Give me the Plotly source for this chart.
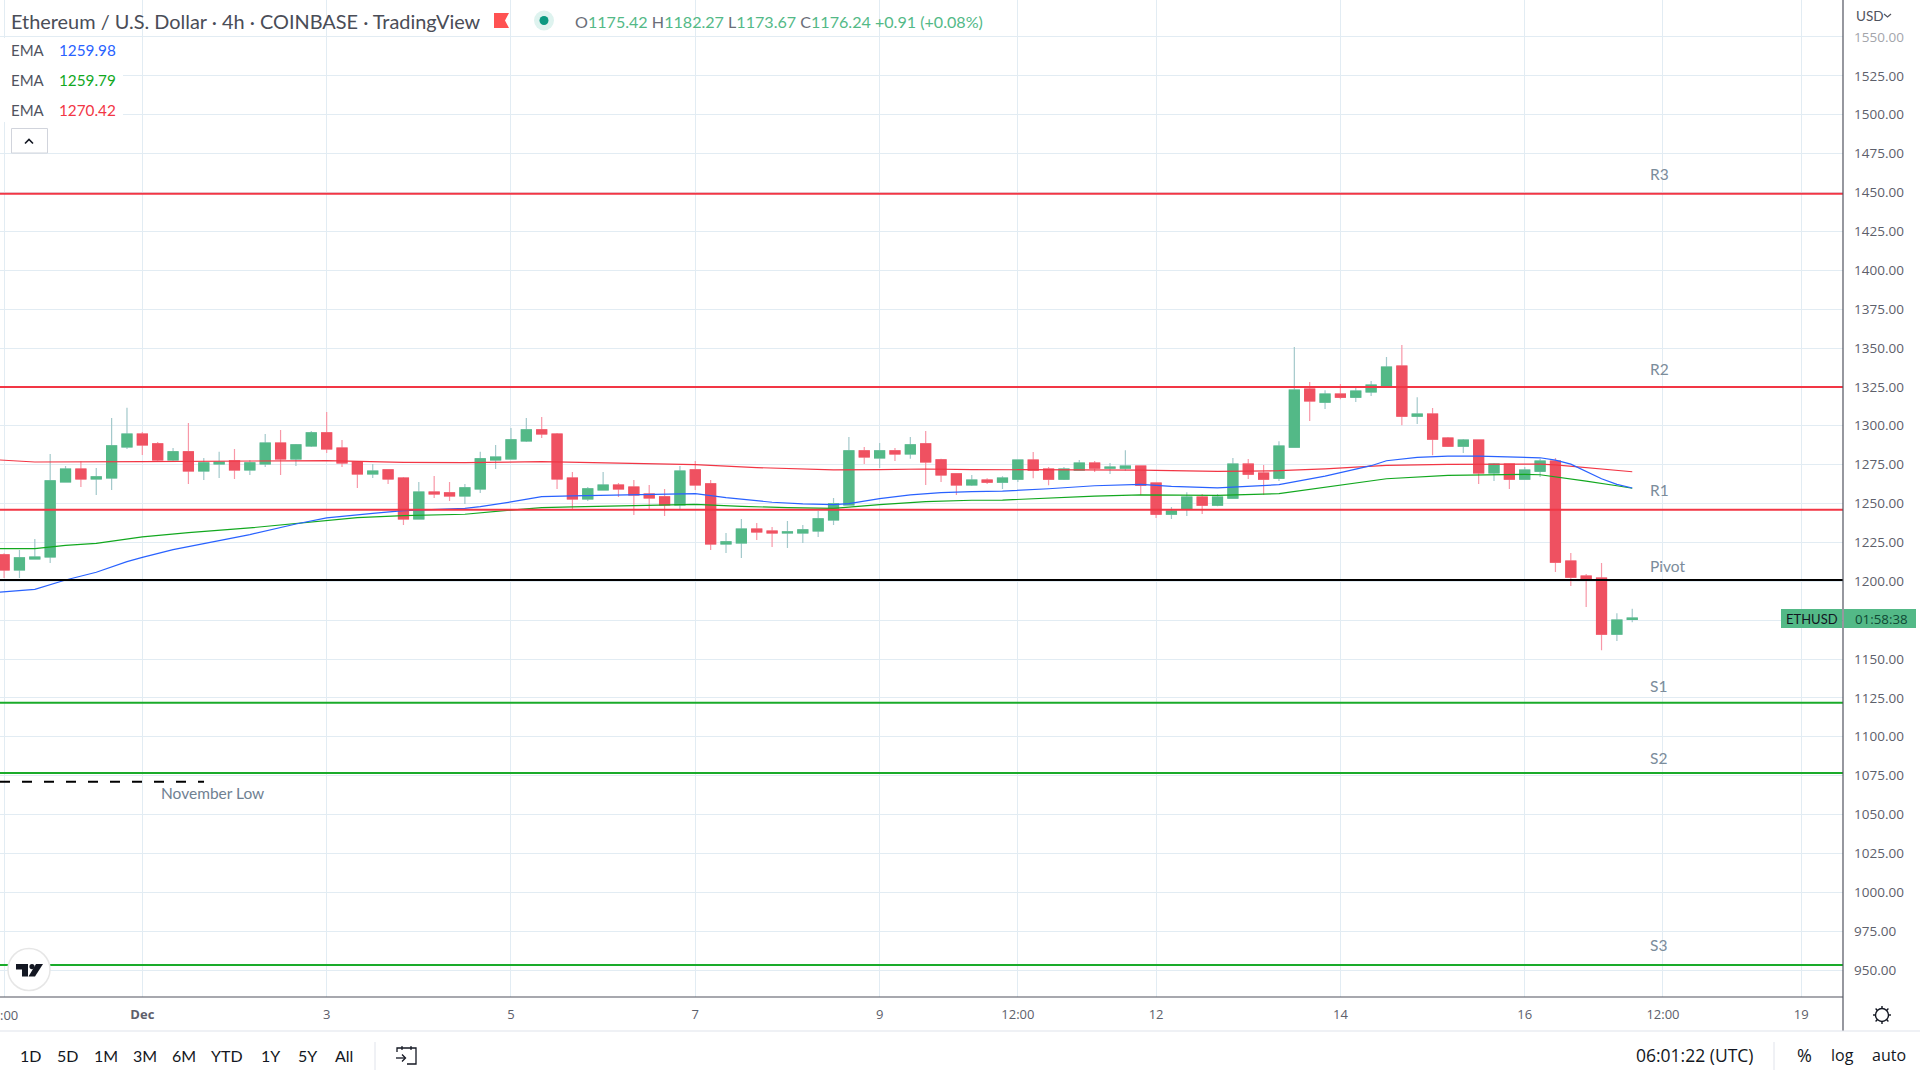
import pandas as pd
import plotly.graph_objects as go

W, H = 1920, 1080
PLOT_R, PLOT_B = 1843, 997

# ---------- data ----------
opens = [1216.9,1207.3,1214.3,1215.6,1263.9,1272.2,1265.8,1266.4,1286.4,1294.7,1288.3,1278.0,1283.2,1270.9,1275.4,1277.4,1271.6,1275.4,1288.9,1278.7,
         1287.0,1295.4,1285.7,1276.7,1269.0,1271.6,1266.4,1240.1,1257.4,1256.8,1254.9,1259.4,1278.0,1278.7,1290.2,1297.3,1294.7,1266.4,1252.9,1258.7,
         1261.9,1260.6,1256.1,1254.2,1249.1,1271.6,1262.6,1224.0,1224.6,1233.6,1232.3,1231.1,1231.1,1232.3,1239.4,1249.1,1283.8,1279.3,1283.8,1281.9,
         1288.3,1278.0,1269.0,1261.9,1265.1,1263.8,1265.7,1277.9,1272.1,1265.7,1271.5,1276.0,1272.8,1272.8,1274.1,1263.1,1243.2,1246.4,1254.1,1249.0,
         1253.5,1275.3,1269.6,1266.3,1286.3,1323.6,1315.2,1320.4,1318.4,1321.7,1325.5,1338.4,1306.2,1307.5,1292.1,1286.9,1290.8,1269.6,1275.3,1265.7,
         1270.8,1277.3,1213.0,1203.3,1202.0,1166.0,1175.42]
highs = [1218.0,1220.1,1227.2,1281.9,1274.1,1277.2,1272.9,1305.0,1311.5,1296.0,1289.6,1285.7,1301.8,1279.3,1283.2,1285.1,1278.0,1294.7,1297.3,1288.3,
         1296.7,1308.9,1290.9,1277.4,1275.4,1271.6,1267.1,1263.9,1267.7,1263.9,1262.6,1283.2,1287.7,1298.6,1305.0,1305.7,1295.4,1270.3,1260.6,1270.3,
         1263.2,1265.1,1261.9,1259.4,1274.1,1277.4,1265.1,1231.1,1240.1,1237.5,1234.9,1238.8,1236.2,1245.2,1253.6,1292.8,1286.4,1288.9,1285.7,1292.8,
         1296.7,1278.7,1269.0,1268.4,1266.3,1267.6,1277.9,1283.1,1273.4,1273.4,1277.9,1277.3,1276.0,1284.3,1274.1,1263.1,1247.7,1257.3,1256.1,1256.1,
         1279.2,1278.6,1274.7,1290.1,1350.6,1328.1,1322.9,1326.8,1324.2,1328.7,1344.2,1351.9,1318.4,1311.4,1292.7,1291.4,1290.8,1276.0,1275.3,1273.4,
         1278.6,1279.2,1218.1,1204.6,1211.7,1179.5,1182.27]
lows = [1202.1,1202.1,1214.0,1211.8,1263.9,1260.6,1255.5,1258.7,1285.1,1281.2,1276.7,1277.4,1262.6,1265.1,1266.4,1265.8,1268.4,1273.5,1268.4,1274.1,
        1286.4,1282.5,1273.5,1260.0,1266.4,1262.6,1236.2,1240.1,1253.6,1251.6,1249.7,1256.8,1272.2,1278.7,1289.6,1292.2,1259.4,1246.5,1251.6,1258.7,
        1254.2,1242.6,1245.8,1242.0,1246.5,1258.7,1220.1,1218.2,1215.0,1226.6,1222.0,1221.4,1224.6,1228.5,1236.2,1249.1,1275.4,1272.9,1277.4,1278.7,
        1261.9,1263.9,1255.5,1261.3,1262.5,1259.3,1263.8,1266.3,1261.8,1265.1,1271.5,1270.2,1268.9,1271.1,1255.4,1240.6,1240.0,1241.9,1243.2,1248.3,
        1253.5,1265.7,1255.4,1264.4,1286.3,1303.0,1310.7,1317.1,1315.2,1319.1,1325.5,1300.4,1301.1,1281.1,1286.3,1282.4,1262.5,1264.4,1259.3,1265.7,
        1267.0,1205.9,1196.9,1183.4,1155.7,1161.5,1173.67]
closes = [1207.3,1215.0,1215.6,1264.5,1272.2,1265.8,1267.1,1287.0,1294.7,1287.7,1278.0,1283.2,1270.9,1276.1,1276.7,1271.6,1276.1,1288.9,1278.7,1287.7,
          1295.4,1285.1,1276.1,1269.0,1270.9,1265.8,1240.1,1257.4,1256.1,1254.9,1260.0,1278.7,1279.9,1290.9,1297.3,1294.7,1265.8,1252.9,1259.4,1261.9,
          1259.4,1255.5,1253.6,1249.1,1270.9,1261.9,1224.0,1225.3,1233.6,1231.7,1231.1,1231.7,1233.0,1240.1,1249.7,1283.8,1279.9,1283.8,1281.9,1287.7,
          1276.7,1268.4,1261.9,1265.1,1263.8,1266.3,1277.9,1271.5,1265.7,1272.1,1276.0,1272.8,1273.4,1274.1,1261.8,1243.2,1245.1,1254.1,1249.0,1254.1,
          1275.3,1268.9,1265.7,1286.9,1322.9,1315.9,1320.4,1318.4,1322.3,1326.2,1337.7,1306.2,1307.5,1291.4,1286.9,1290.8,1269.6,1275.3,1265.7,1271.5,
          1277.3,1212.3,1202.7,1201.4,1166.0,1175.0,1176.24]

ema_blue_bars = [-1,2,4,6,8,9,11,13,16,19,21,24,26,30,31,33,35,37,40,43,45,47,50,52,54,55,57,59,61,63,65,68,71,74,76,79,82,83,86,89,90,92,94,96,100,101,102,103,104,105,106]
ema_blue = [1192.5,1194.8,1200.8,1205.8,1212.6,1215.4,1220.3,1224.2,1230.0,1236.8,1240.7,1243.7,1245.4,1246.9,1248.0,1251.0,1254.4,1254.9,1255.3,1255.7,1256.4,1253.8,1250.8,1249.7,1249.3,1249.9,1253.1,1255.5,1257.0,1257.6,1258.0,1259.5,1261.4,1262.3,1261.0,1260.1,1261.4,1262.1,1267.6,1274.3,1277.5,1279.6,1280.5,1280.5,1279.4,1277.9,1275.3,1270.8,1265.9,1262.3,1259.98]
ema_green_bars = [-1,2,4,6,9,12,16,20,23,26,30,33,35,37,40,43,45,48,51,54,57,60,63,65,71,74,79,83,86,90,94,95,99,100,102,103,105,106]
ema_green = [1221.0,1221.0,1223.1,1224.4,1228.5,1231.3,1234.3,1238.3,1240.9,1242.2,1243.1,1245.8,1247.3,1247.8,1248.4,1248.8,1249.5,1248.2,1247.3,1246.9,1249.3,1251.2,1252.1,1252.2,1254.8,1255.6,1255.2,1256.3,1260.5,1265.9,1268.1,1268.3,1268.7,1268.5,1265.9,1264.4,1261.4,1259.79]
ema_red_bars = [-1,2,9,21,26,30,35,39,45,49,54,57,60,63,71,74,79,83,86,90,94,96,100,101,103,106]
ema_red = [1278.4,1276.7,1276.9,1277.6,1276.5,1276.3,1276.9,1276.3,1275.0,1273.1,1271.6,1271.8,1272.2,1271.8,1271.7,1271.5,1270.6,1271.1,1272.3,1274.5,1275.1,1275.3,1275.3,1274.9,1273.0,1270.42]

level_names = ["R3", "R2", "R1", "Pivot", "S1", "S2", "S3"]
level_values = [1449.2, 1324.9, 1246.0, 1200.8, 1121.8, 1076.7, 953.2]
level_label_prices = [1462.0, 1336.5, 1258.7, 1210.0, 1132.6, 1086.6, 966.0]
level_colors = ["#f23645", "#f23645", "#f23645", "#000000", "#1aab2a", "#1aab2a", "#1aab2a"]

november_low = 1071.1

price_ticks = [950,975,1000,1025,1050,1075,1100,1125,1150,1175,1200,1225,1250,1275,1300,1325,1350,1375,1400,1425,1450,1475,1500,1525,1550]
price_labels = ["950.00","975.00","1000.00","1025.00","1050.00","1075.00","1100.00","1125.00","1150.00","","1200.00","1225.00","1250.00","1275.00","1300.00","1325.00","1350.00","1375.00","1400.00","1425.00","1450.00","1475.00","1500.00","1525.00",'<span style="color:#a3a5ab">1550.00</span>']
time_ticks = ["2022-11-29 12:00","2022-12-01","2022-12-03","2022-12-05","2022-12-07","2022-12-09","2022-12-10 12:00","2022-12-12","2022-12-14","2022-12-16","2022-12-17 12:00","2022-12-19"]
time_labels = ["","<b>Dec</b>","3","5","7","9","12:00","12","14","16","12:00","19"]

# ---------- styling ----------
GREEN, RED = "#53b987", "#ef5161"
WICK_G, WICK_R = "#a3c9cb", "#f898a8"
GRID = "#e2ecf3"
AXIS = "#50535e"
UI_FONT = "Lato"
AX_FONT = "Open Sans"

t0 = pd.Timestamp("2022-11-29 12:00")
dates = [t0 + pd.Timedelta(hours=4 * k) for k in range(len(opens))]
bar_time = lambda k: t0 + pd.Timedelta(hours=4 * k)
x_start, x_end = "2022-11-29 10:56", "2022-12-19 10:53"

fig = go.Figure()

for bars, vals, col, nm in [(ema_red_bars, ema_red, "#f23645", "EMA red"),
                            (ema_green_bars, ema_green, "#12a81f", "EMA green"),
                            (ema_blue_bars, ema_blue, "#2962ff", "EMA blue")]:
    fig.add_trace(go.Scatter(x=[bar_time(k) for k in bars], y=vals, mode="lines", name=nm,
                             line=dict(color=col, width=1.2)))

fig.add_trace(go.Candlestick(x=dates, open=opens, high=highs, low=lows, close=closes, name="wicks",
                             increasing=dict(line=dict(color=WICK_G, width=1.2), fillcolor=WICK_G),
                             decreasing=dict(line=dict(color=WICK_R, width=1.2), fillcolor=WICK_R),
                             whiskerwidth=0))
fig.add_trace(go.Candlestick(x=dates, open=opens, close=closes,
                             high=[max(o, c) for o, c in zip(opens, closes)],
                             low=[min(o, c) for o, c in zip(opens, closes)], name="bodies",
                             increasing=dict(line=dict(color=GREEN, width=1.2), fillcolor=GREEN),
                             decreasing=dict(line=dict(color=RED, width=1.2), fillcolor=RED),
                             whiskerwidth=0))

for nm, val, col in zip(level_names, level_values, level_colors):
    fig.add_trace(go.Scatter(x=[x_start, x_end], y=[val, val], mode="lines", name=nm,
                             line=dict(color=col, width=2)))

fig.add_trace(go.Scatter(x=[x_start, "2022-12-01 16:04"], y=[november_low, november_low], mode="lines",
                         name="November Low", line=dict(color="#000000", width=2, dash="10px,12px")))


def px(x):
    return x / W


def py(y):
    return 1 - y / H


annotations = []


def label(x, y, text, size=15, color="#131722", anchor="left", font=UI_FONT, bg=None):
    d = dict(xref="paper", yref="paper", x=px(x), y=py(y), text=text, showarrow=False, xanchor=anchor,
             yanchor="middle", font=dict(family=font, size=size, color=color), borderpad=0, borderwidth=0, align="left")
    if bg:
        d["bgcolor"] = bg
    annotations.append(d)


# level names
for nm, p in zip(level_names, level_label_prices):
    annotations.append(dict(xref="x", yref="y", x="2022-12-17 08:13", y=p, text=nm, showarrow=False, xanchor="left",
                            yanchor="middle", font=dict(family=UI_FONT, size=15.5, color="#7b8c9b")))
annotations.append(dict(xref="x", yref="y", x="2022-12-01 04:20", y=1064.1, text="November Low", showarrow=False,
                        xanchor="left", yanchor="middle", font=dict(family=UI_FONT, size=15.5, color="#6f8192")))

# header
label(11, 21, "Ethereum / U.S. Dollar · 4h · COINBASE · TradingView", 19.9, "#4a4d57")
g = "#53b987"
n = "#6a6d78"
label(575, 21, f'<span style="color:{n}">O</span>1175.42 <span style="color:{n}">H</span>1182.27 '
               f'<span style="color:{n}">L</span>1173.67 <span style="color:{n}">C</span>1176.24 +0.91 (+0.08%)', 16.1, g)

shapes = []


def rect(x0, y0, x1, y1, fill, line=None, lw=0):
    shapes.append(dict(type="rect", xref="paper", yref="paper", x0=px(x0), x1=px(x1), y0=py(y0), y1=py(y1),
                       fillcolor=fill, line=dict(color=line or fill, width=lw), layer="above"))


def hline(x0, x1, y, col, lw=1):
    shapes.append(dict(type="line", xref="paper", yref="paper", x0=px(x0), x1=px(x1), y0=py(y), y1=py(y),
                       line=dict(color=col, width=lw), layer="above"))


def vline(x, y0, y1, col, lw=1):
    shapes.append(dict(type="line", xref="paper", yref="paper", x0=px(x), x1=px(x), y0=py(y0), y1=py(y1),
                       line=dict(color=col, width=lw), layer="above"))


def circle(cx, cy, r, fill, line=None, lw=0):
    shapes.append(dict(type="circle", xref="paper", yref="paper", x0=px(cx - r), x1=px(cx + r), y0=py(cy - r), y1=py(cy + r),
                       fillcolor=fill, line=dict(color=line or fill, width=lw), layer="above"))


def path(points, fill=None, col=None, lw=0, close=False):
    s = "M " + " L ".join(f"{px(x):.6f},{py(y):.6f}" for x, y in points) + (" Z" if close else "")
    shapes.append(dict(type="path", xref="paper", yref="paper", path=s, fillcolor=fill or "rgba(0,0,0,0)",
                       line=dict(color=col or "rgba(0,0,0,0)", width=lw), layer="above"))


for y, val, col in [(50, "1259.98", "#2962ff"), (80, "1259.79", "#12a81f"), (110, "1270.42", "#f23645")]:
    label(11, y, "EMA", 15, "#50535e")
    label(59, y, val, 15.3, col)

# right column
label(1856, 16, "USD", 13.5, AXIS)
label(1812, 618.7, "ETHUSD", 13, "#131722", anchor="center")
label(1881.7, 618.7, "01:58:38", 13.3, "#0f4a35", anchor="center", font=AX_FONT)

# cropped first time label
label(0, 1014.5, ":00", 13, "#5d606b", font=AX_FONT)

# bottom bar
for x, t in [(30, "1D"), (67, "5D"), (106, "1M"), (145, "3M"), (184, "6M"), (227, "YTD"), (270.5, "1Y"), (307, "5Y"), (344, "All")]:
    label(x, 1055, t, 16, "#131722", anchor="center")
label(1636, 1055, "06:01:22 (UTC)", 17.5, "#131722", font=AX_FONT)
label(1804, 1055, "%", 18, "#131722", anchor="center", font=AX_FONT)
label(1842, 1055, "log", 16, "#131722", anchor="center", font=AX_FONT)
label(1889, 1055, "auto", 16, "#131722", anchor="center", font=AX_FONT)

# white plate behind the indicator rows
rect(0, 38, 123, 122, "#ffffff")
# axis frame
vline(1843, 0, 1031, AXIS, 1.2)
hline(0, 1843, 997, AXIS, 1.2)
hline(0, 1920, 1031, "#e0e3eb", 1.2)
vline(375, 1042, 1070, "#e0e3eb", 1)
vline(1774, 1042, 1070, "#e0e3eb", 1)
# flag
path([(494, 13), (509, 13), (505, 20.5), (509, 28), (494, 28)], fill="#ff5252", close=True)
# status dot
circle(544, 20.5, 10, "#def3ef")
circle(544, 20.5, 4.5, "#0b9981")
# collapse button
shapes.append(dict(type="rect", xref="paper", yref="paper", x0=px(11.5), x1=px(47.5), y0=py(128.5), y1=py(153),
                   fillcolor="#ffffff", line=dict(color="#d1d4dc", width=1), layer="above"))
path([(25, 143.5), (29, 139.5), (33, 143.5)], col="#131722", lw=1.6)
# price tag
rect(1781, 609, 1842, 628, GREEN)
rect(1844, 609, 1916, 628, GREEN)
# USD chevron
path([(1884, 14), (1887.5, 17), (1891, 14)], col=AXIS, lw=1.2)
# logo
circle(29, 969.5, 21, "#ffffff", "#e6e6e6", 1.5)
path([(16, 964), (28, 964), (28, 976.5), (22, 976.5), (22, 969.5), (16, 969.5)], fill="#131722", close=True)
circle(32, 966.6, 2.6, "#131722")
path([(36, 964), (43, 964), (35, 976.5), (28.5, 976.5)], fill="#131722", close=True)
# calendar icon
path([(397, 1052), (397, 1048), (416, 1048), (416, 1064), (407, 1064)], col="#131722", lw=1.3)
vline(402, 1046, 1050, "#131722", 1.2)
vline(411, 1046, 1050, "#131722", 1.2)
path([(396, 1058), (405, 1058)], col="#131722", lw=1.3)
path([(402, 1054.5), (405.5, 1058), (402, 1061.5)], col="#131722", lw=1.3)
# gear icon
circle(1882, 1015, 6.5, "#ffffff", "#131722", 1.4)
for a, b, c, d in [(1882, 1006, 1882, 1008.5), (1882, 1021.5, 1882, 1024), (1873, 1015, 1875.5, 1015), (1888.5, 1015, 1891, 1015),
                   (1875.6, 1008.6, 1877.4, 1010.4), (1886.6, 1019.6, 1888.4, 1021.4), (1875.6, 1021.4, 1877.4, 1019.6), (1886.6, 1010.4, 1888.4, 1008.6)]:
    path([(a, b), (c, d)], col="#131722", lw=1.4)

fig.update_layout(
    width=W, height=H, margin=dict(l=0, r=0, t=0, b=0, pad=0, autoexpand=False),
    paper_bgcolor="#ffffff", plot_bgcolor="#ffffff", showlegend=False, boxmode="overlay", boxgap=0.35, boxgroupgap=0,
    hovermode=False, annotations=annotations, shapes=shapes,
    xaxis=dict(type="date", domain=[0, PLOT_R / W], range=[x_start, x_end], rangeslider=dict(visible=False),
               tickmode="array", tickvals=time_ticks, ticktext=time_labels, showgrid=True, gridcolor=GRID, gridwidth=1,
               zeroline=False, showline=False, ticks="", tickfont=dict(family=AX_FONT, size=13, color="#5d606b"),
               ticklabelstandoff=8),
    yaxis=dict(domain=[1 - PLOT_B / H, 1], range=[932.64, 1573.79], side="right", tickmode="array", tickvals=price_ticks,
               ticktext=price_labels, showgrid=True, gridcolor=GRID, gridwidth=1, zeroline=False, showline=False, ticks="",
               tickfont=dict(family=AX_FONT, size=13.5, color="#5d606b"), ticklabelstandoff=10),
)

fig.write_html("out.html", config=dict(displayModeBar=False),
               post_script="document.body.style.margin='0';document.documentElement.style.overflow='hidden';")
